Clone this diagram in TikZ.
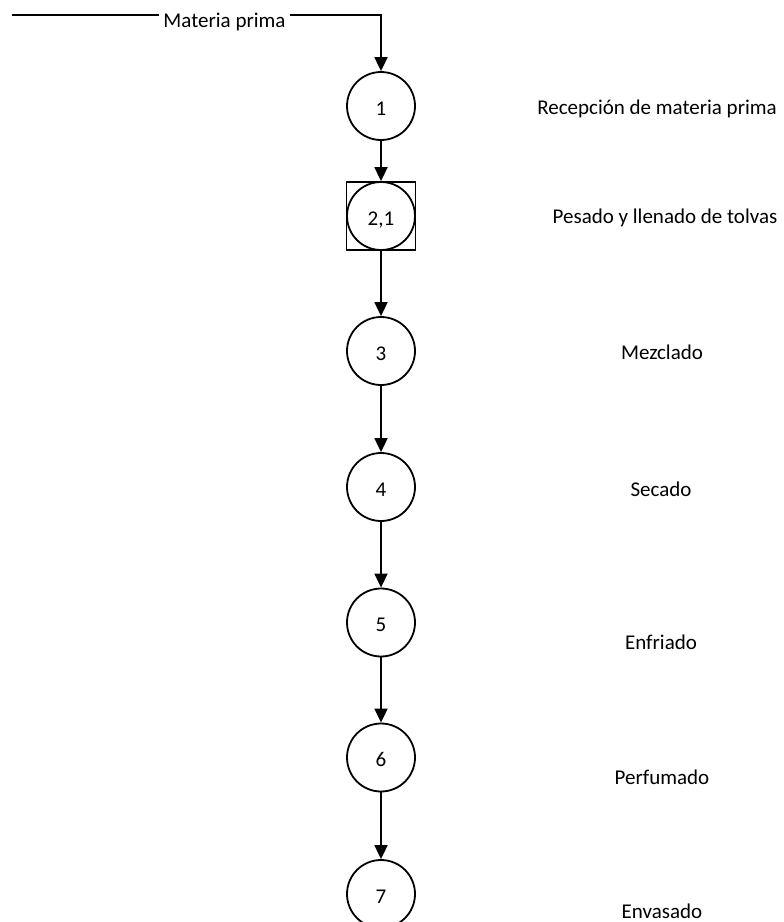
\documentclass[tikz,border=0pt]{standalone}
\usepackage{fontspec}
\setmainfont{Carlito}
\usetikzlibrary{arrows.meta}
\begin{document}
\begin{tikzpicture}[x=0.5pt,y=-0.5pt,
  font=\fontsize{10.5pt}{12.6pt}\selectfont,
  proc/.style={circle,draw,line width=0.9pt,minimum size=34pt,inner sep=0pt,text height=9pt,text depth=0pt},
  insp/.style={rectangle,draw,line width=0.9pt,minimum width=34.5pt,minimum height=34pt,inner sep=0pt},
  flow/.style={line width=0.9pt,-{Triangle[width=6.5pt,length=7pt]}},
  desc/.style={anchor=base,inner sep=0pt}]
\useasboundingbox (0,0) rectangle (783,922);
% process nodes
\node[proc] (n1) at (381,106) {1};
\node[insp] (sq) at (381,216) {};
\node[proc] (n2) at (381,216) {2,1};
\node[proc] (n3) at (381,351) {3};
\node[proc] (n4) at (381,487) {4};
\node[proc] (n5) at (381,622.5) {5};
\node[proc] (n6) at (381,757.5) {6};
\node[proc] (n7) at (381,894) {7};
% input flow
\coordinate (src) at (12,15);
\draw[flow] (src) -| (n1.north);
\node[fill=white,inner xsep=2pt,inner ysep=1pt,anchor=base] (mp) at (224.5,27) {Materia prima};
% connectors
\draw[flow] (n1.south) -- (sq.north);
\draw[flow] (sq.south) -- (n3.north);
\draw[flow] (n3.south) -- (n4.north);
\draw[flow] (n4.south) -- (n5.north);
\draw[flow] (n5.south) -- (n6.north);
\draw[flow] (n6.south) -- (n7.north);
% descriptions
\node[desc] (d1) at (657,114) {Recepción de materia prima};
\node[desc] (d2) at (665,223) {Pesado y llenado de tolvas};
\node[desc] (d3) at (662,359) {Mezclado};
\node[desc] (d4) at (661,496) {Secado};
\node[desc] (d5) at (661,649) {Enfriado};
\node[desc] (d6) at (662,784) {Perfumado};
\node[desc] (d7) at (662,918) {Envasado};
\end{tikzpicture}
\end{document}
